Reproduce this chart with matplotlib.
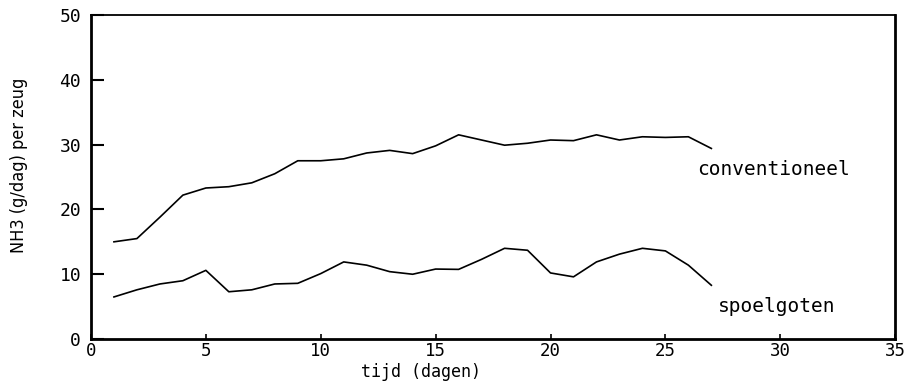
import matplotlib.pyplot as plt

# days
days = list(range(1, 28))

# NH3 emission (g/dag) per zeug
conventioneel = [15.0, 15.5, 18.8, 22.2, 23.3, 23.5, 24.1, 25.5, 27.5, 27.5,
                 27.8, 28.7, 29.1, 28.6, 29.8, 31.5, 30.7, 29.9, 30.2, 30.7,
                 30.6, 31.5, 30.7, 31.2, 31.1, 31.2, 29.4]
spoelgoten = [6.5, 7.6, 8.5, 9.0, 10.6, 7.3, 7.6, 8.5, 8.6, 10.1,
              11.9, 11.4, 10.4, 10.0, 10.8, 10.75, 12.3, 14.0, 13.7, 10.2,
              9.6, 11.9, 13.1, 14.0, 13.6, 11.4, 8.3]

xticks = [0, 5, 10, 15, 20, 25, 30, 35]
yticks = [0, 10, 20, 30, 40, 50]

mono = "DejaVu Sans Mono"

fig = plt.figure(figsize=(9.17, 3.81), dpi=100)
ax = fig.add_axes([0.0992, 0.110, 0.877, 0.851])

ax.plot(days, conventioneel, color="black", lw=1.2)
ax.plot(days, spoelgoten, color="black", lw=1.2)

ax.text(26.4, 26.1, "conventioneel", fontsize=14, family=mono,
        ha="left", va="center")
ax.text(27.3, 5.0, "spoelgoten", fontsize=14, family=mono,
        ha="left", va="center")

ax.set_xlim(0, 35)
ax.set_ylim(0, 50)
ax.set_xticks(xticks)
ax.set_yticks(yticks)
ax.tick_params(axis="y", direction="in", length=9, width=1.5, labelsize=13, pad=7)
ax.tick_params(axis="x", direction="in", length=3.5, width=1.2, labelsize=12.5, pad=2)
for lab in ax.get_xticklabels() + ax.get_yticklabels():
    lab.set_family(mono)

for side in ["left", "bottom", "right"]:
    ax.spines[side].set_linewidth(2)
ax.spines["top"].set_linewidth(1.3)

ax.set_xlabel("tijd (dagen)", fontsize=12, family=mono)
ax.xaxis.set_label_coords(0.41, -0.074)
ax.set_ylabel("NH3 (g/dag) per zeug", fontsize=13, fontstretch="condensed")
ax.yaxis.set_label_coords(-0.078, 0.537)

fig.savefig("out.png", dpi=100)
